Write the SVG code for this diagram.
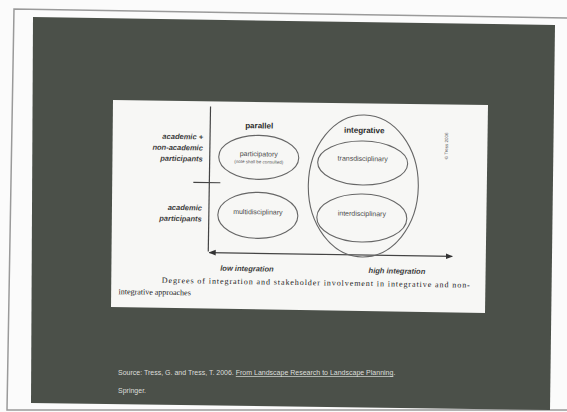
<svg xmlns="http://www.w3.org/2000/svg" width="567" height="412" viewBox="0 0 567 412">
<defs>
<style>
.lbl{font-family:"Liberation Sans",Arial,sans-serif;font-weight:bold;font-style:italic;font-size:7.5px;fill:#3a3a3a}
.hd{font-family:"Liberation Sans",Arial,sans-serif;font-weight:bold;font-size:8px;fill:#2a2a2a}
.nt{font-family:"Liberation Sans",Arial,sans-serif;font-size:7px;fill:#4a4a4a}
.sm{font-family:"Liberation Sans",Arial,sans-serif;font-size:4.5px;fill:#555}
.cap{font-family:"Liberation Serif","Times New Roman",serif;font-size:8px;fill:#222}
.src{font-family:"Liberation Sans",Arial,sans-serif;font-size:7px;fill:#dcdeda}
.ell{fill:none;stroke:#666;stroke-width:1.1}
.ax{fill:none;stroke:#444;stroke-width:1.2}
</style>
<marker id="ah" viewBox="0 0 10 10" refX="9" refY="5" markerWidth="6" markerHeight="6" orient="auto-start-reverse">
<path d="M0,1 L10,5 L0,9 z" fill="#333"/>
</marker>
</defs>
<rect width="567" height="412" fill="#fbfbfb"/>
<polyline points="567,18 14,9 7,410 567,410" fill="none" stroke="#9a9a9a" stroke-width="1.5"/>
<polygon points="33,17 555,25 550,410 31,403" fill="#4b5049"/>
<polygon points="113,100 488,105 485,313 111,307" fill="#f7f7f5"/>
<g transform="rotate(0.9,300,205)">
<g id="connectors">
<line class="ax" x1="209" y1="108" x2="209" y2="253"/>
<line class="ax" x1="210" y1="254" x2="453" y2="254" marker-start="url(#ah)" marker-end="url(#ah)"/>
<line class="ax" x1="193" y1="184" x2="220" y2="184"/>
</g>
<g id="axis-labels">
<text class="lbl" x="202" y="141" text-anchor="end">academic +</text>
<text class="lbl" x="202" y="152" text-anchor="end">non-academic</text>
<text class="lbl" x="202" y="163" text-anchor="end">participants</text>
<text class="lbl" x="202" y="212" text-anchor="end">academic</text>
<text class="lbl" x="202" y="223" text-anchor="end">participants</text>
<text class="hd" x="258" y="129" text-anchor="middle">parallel</text>
<text class="lbl" x="248" y="272" text-anchor="middle">low integration</text>
<text class="lbl" x="398" y="272" text-anchor="middle">high integration</text>
<text class="sm" transform="translate(447,157) rotate(-90)">© Tress 2006</text>
</g>
<g id="integrative">
<ellipse class="ell" cx="363" cy="185" rx="55" ry="71"/>
<text class="hd" x="363" y="132" text-anchor="middle">integrative</text>
</g>
<g id="participatory">
<ellipse class="ell" cx="258" cy="158" rx="40" ry="22"/>
<text class="nt" x="258" y="157" text-anchor="middle">participatory</text>
<text class="sm" x="258" y="164" text-anchor="middle">(note shall be consulted)</text>
</g>
<g id="multidisciplinary">
<ellipse class="ell" cx="258" cy="216" rx="40" ry="23"/>
<text class="nt" x="258" y="215" text-anchor="middle">multidisciplinary</text>
</g>
<g id="transdisciplinary">
<ellipse class="ell" cx="362" cy="162" rx="45" ry="22"/>
<text class="nt" x="362" y="160" text-anchor="middle">transdisciplinary</text>
</g>
<g id="interdisciplinary">
<ellipse class="ell" cx="362" cy="217" rx="45" ry="24"/>
<text class="nt" x="362" y="215" text-anchor="middle">interdisciplinary</text>
</g>
<g id="caption">
<text class="cap" x="163" y="285" textLength="308" lengthAdjust="spacing">Degrees of integration and stakeholder involvement in integrative and non-</text>
<text class="cap" x="120" y="297">integrative approaches</text>
</g>
</g>
<g id="source">
<text class="src" x="118" y="375">Source: Tress, G. and Tress, T. 2006. <tspan text-decoration="underline">From Landscape Research to Landscape Planning</tspan>.</text>
<text class="src" x="118" y="393">Springer.</text>
</g>
</svg>
